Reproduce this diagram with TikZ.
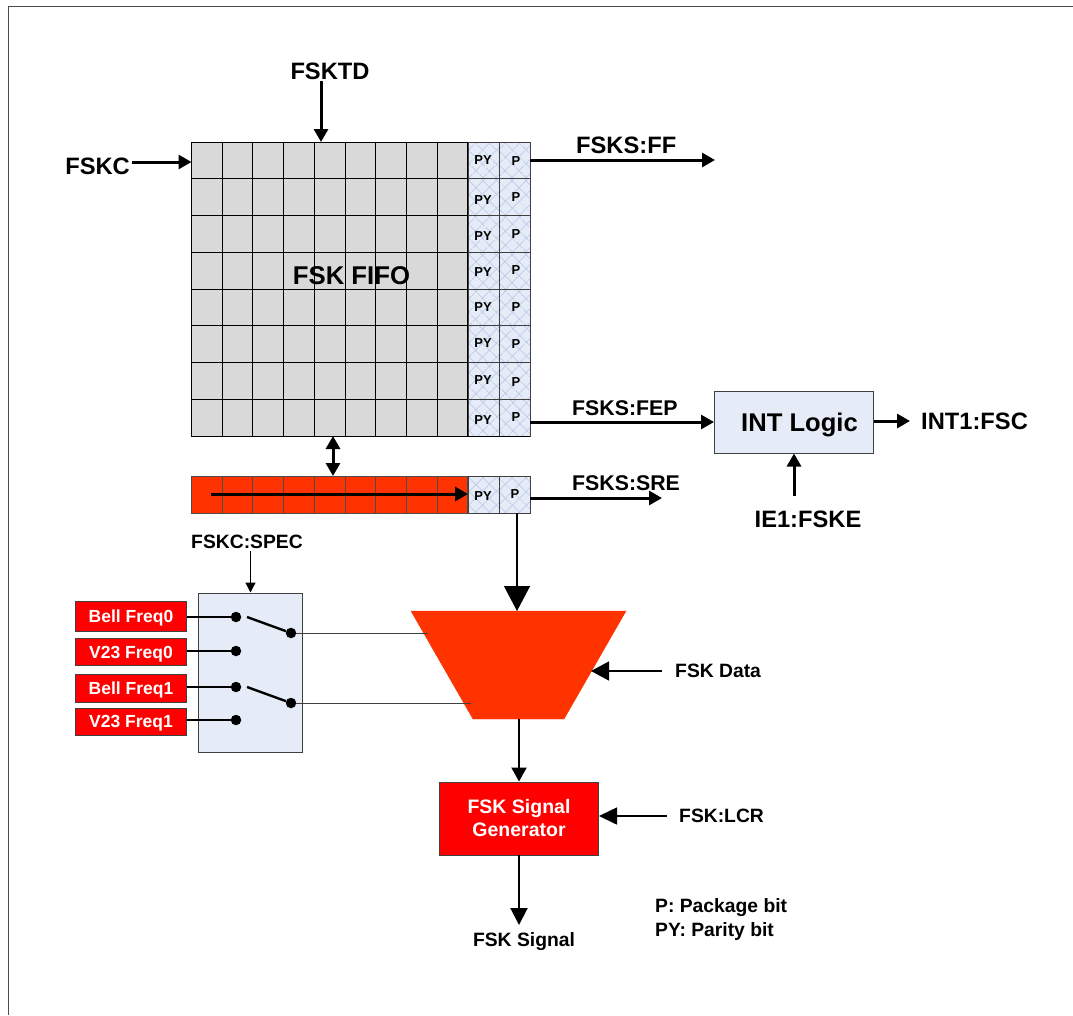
\documentclass[tikz,border=0pt]{standalone}
\usepackage{fontspec}
\setmainfont{Liberation Sans}
\usetikzlibrary{arrows.meta,patterns.meta}
\definecolor{cellgray}{HTML}{D9D9D9}
\definecolor{paleblue}{HTML}{E6ECF7}
\definecolor{hatchblue}{HTML}{B4C6E4}
\definecolor{orangered}{HTML}{FF3300}
\tikzset{
  x=1pt,y=-1pt,
  wire/.style={line width=3pt,-{Triangle[length=13pt,width=14pt]}},
  thinwire/.style={line width=1.2pt,-{Triangle[length=10pt,width=10pt]}},
  bigarrow/.style={line width=1.2pt,-{Triangle[length=25pt,width=26pt]}},
  label/.style={font=\bfseries,text=black,inner sep=0pt},
  big/.style={label,font=\fontsize{23.7}{26}\selectfont\bfseries},
  mid/.style={label,font=\fontsize{21.3}{24}\selectfont\bfseries},
  small/.style={label,font=\fontsize{19.3}{22}\selectfont\bfseries},
  bitlab/.style={label,font=\fontsize{13}{14}\selectfont\bfseries},
  freq/.style={draw=black!75,line width=1pt,fill=red,text=white,minimum width=111pt,inner sep=0pt,text depth=0pt,font=\fontsize{17.5}{20}\selectfont\bfseries},
  gcell/.style={draw=black,line width=1pt,fill=cellgray},
  rcell/.style={draw=black!70,line width=1pt,fill=orangered},
  hatch/.style={pattern={Lines[angle=45,distance=10.5pt,line width=.8pt]},pattern color=hatchblue},
  hatchb/.style={pattern={Lines[angle=-45,distance=10.5pt,line width=.8pt]},pattern color=hatchblue},
  pin/.style={circle,fill=black,inner sep=0pt,minimum size=10.5pt},
  conn/.style={line width=2.4pt,black},
  hair/.style={line width=1pt,black!75}
}
\begin{document}
\begin{tikzpicture}
\useasboundingbox (0,0) rectangle (1073,1015);
\draw[line width=1pt,black!70] (8,1015) -- (8,6.5) -- (1073,6.5);
% FIFO cells
\foreach \r in {0,...,7}{
  \pgfmathsetmacro{\ya}{142+36.75*\r}
  \pgfmathsetmacro{\yb}{142+36.75*(\r+1)}
  \foreach \c in {0,...,8}{
    \pgfmathsetmacro{\xa}{191.5+30.72*\c}
    \pgfmathsetmacro{\xb}{191.5+30.72*(\c+1)}
    \draw[gcell] (\xa,\ya) rectangle (\xb,\yb);
  }
  \foreach \xa/\xb in {468/499,499/530}{
    \fill[paleblue] (\xa,\ya) rectangle (\xb,\yb);
    \fill[hatch] (\xa,\ya) rectangle (\xb,\yb);
    \fill[hatchb] (\xa,\ya) rectangle (\xb,\yb);
    \draw[hair] (\xa,\ya) rectangle (\xb,\yb);
    \draw[black,line width=1pt] (\xa,\yb) -- (\xb,\yb);
  }
}
% shift register
\foreach \c in {0,...,8}{
  \pgfmathsetmacro{\xa}{191.5+30.72*\c}
  \pgfmathsetmacro{\xb}{191.5+30.72*(\c+1)}
  \draw[rcell] (\xa,476) rectangle (\xb,513);
}
\foreach \xa/\xb in {468/499,499/530}{
  \fill[paleblue] (\xa,476) rectangle (\xb,513);
  \fill[hatch] (\xa,476) rectangle (\xb,513);
  \fill[hatchb] (\xa,476) rectangle (\xb,513);
  \draw[hair] (\xa,476) rectangle (\xb,513);
}
\foreach \x/\y/\t in {
 483/160/PY,516/161/P,483/200/PY,516/197/P,483/236/PY,516/234/P,483/272/PY,516/270/P,
 483/307/PY,516/307/P,483/343/PY,516/344/P,483/380/PY,516/382/P,483/420/PY,516/417/P,
 483/496/PY,515/494/P}{
  \node[bitlab] at (\x,\y) {\t};
}
\node[label,font=\fontsize{25.7}{28}\selectfont\bfseries] (fifo) at (351.5,276) {FSK FIFO};
% coordinates
\coordinate (tdfrom) at (321,81);
\coordinate (tdto) at (321,142);
\coordinate (cto) at (191.5,162);
\coordinate (fffrom) at (530,160);
\coordinate (ffto) at (715,160);
\coordinate (fepfrom) at (530,422);
\coordinate (srefrom) at (530,498);
\coordinate (sreto) at (662,498);
\coordinate (fifob) at (333,436);
\coordinate (srt) at (333,476);
\coordinate (ra) at (211,494);
\coordinate (rb) at (468,494);
% labels
\node[big] (fsktd) at (330,71) {FSKTD};
\node[big,anchor=east] (fskc) at (130,166) {FSKC};
\node[big,anchor=west] (ff) at (576,145) {FSKS:FF};
\node[mid,anchor=west] (fep) at (572,408) {FSKS:FEP};
\node[mid,anchor=west] (sre) at (572,483) {FSKS:SRE};
\node[big,anchor=west] (int1) at (921,421) {INT1:FSC};
\node[big] (ie1) at (808,519) {IE1:FSKE};
\node[draw=black!75,line width=1pt,fill=paleblue,minimum width=159pt,minimum height=62pt,inner sep=0pt,text depth=0pt,font=\fontsize{25.6}{28}\selectfont\bfseries] (intl) at (794,422) {\hspace{11pt}INT Logic};
\coordinate (intend) at (910,421);
\draw[wire] (tdfrom) -- (tdto);
\draw[wire] (fskc.east |- cto) ++(2,0) coordinate (cfrom) -- (cto);
\draw[wire] (fffrom) -- (ffto);
\draw[wire] (fepfrom) -- (intl.west |- fepfrom);
\draw[wire] (srefrom) -- (sreto);
\draw[wire] (intl.east |- intend) -- (intend);
\coordinate (ief) at (794,496);
\draw[wire] (ief) -- (intl.south);
\draw[line width=3pt,{Triangle[length=13pt,width=14pt]}-{Triangle[length=13pt,width=14pt]}] (fifob) -- (srt);
\draw[wire] (ra) -- (rb);
% switch box
\node[draw=black!75,line width=1pt,fill=paleblue,minimum width=104pt,minimum height=159pt,inner sep=0pt] (sw) at (250.5,672.5) {};
\node[small] (spec) at (247,542) {FSKC:SPEC};
\draw[thinwire] (spec.south -| sw.north) ++(0,2) coordinate (sf) -- (sw.north);
\node[freq,minimum height=30pt] (b0) at (131,616.5) {Bell Freq0};
\node[freq,minimum height=27pt] (v0) at (131,652) {V23 Freq0};
\node[freq,minimum height=28pt] (b1) at (131,688) {Bell Freq1};
\node[freq,minimum height=27pt] (v1) at (131,721.5) {V23 Freq1};
\node[pin] (p0) at (236,617) {};
\node[pin] (p1) at (236,651) {};
\node[pin] (p2) at (236,687) {};
\node[pin] (p3) at (236,720) {};
\node[pin] (o0) at (291,633) {};
\node[pin] (o1) at (291,703) {};
\coordinate (s0) at (247,617);
\coordinate (s1) at (247,687);
\draw[conn] (b0.east |- p0) -- (p0);
\draw[conn] (v0.east |- p1) -- (p1);
\draw[conn] (b1.east |- p2) -- (p2);
\draw[conn] (v1.east |- p3) -- (p3);
\draw[conn] (s0) -- (o0);
\draw[conn] (s1) -- (o1);
% mux
\fill[orangered,draw=orangered] (411,611) -- (626,611) -- (564,719) -- (473,719) -- cycle;
\coordinate (mi0) at (428,633);
\coordinate (mi1) at (471,703);
\coordinate (mt) at (517,611);
\coordinate (mb) at (519,719);
\coordinate (mr) at (591,671);
\draw[hair] (o0) -- (mi0);
\draw[hair] (o1) -- (mi1);
\coordinate (pb) at (517,513);
\draw[bigarrow] (pb) -- (mt);
\node[small,anchor=west] (fdata) at (675,671) {FSK Data};
\draw[line width=1.5pt,-{Triangle[length=18pt,width=19pt]}] (fdata.west) ++(-13,0) coordinate (fdf) -- (mr);
\node[draw=black!75,line width=1pt,fill=red,text=white,minimum width=159pt,minimum height=73pt,inner sep=0pt,align=center,font=\fontsize{19.5}{23}\selectfont\bfseries] (gen) at (519,818.5) {FSK Signal\\Generator};
\draw[line width=2pt,-{Triangle[length=14pt,width=15pt]}] (mb) -- (gen.north);
\node[small,anchor=west] (lcr) at (679,816) {FSK:LCR};
\draw[line width=1.6pt,-{Triangle[length=18pt,width=17pt]}] (lcr.west) ++(-12,0) coordinate (lf) -- (gen.east |- lf);
\node[small] (sig) at (524,942) {FSK Signal};
\coordinate (gb) at (519,855);
\coordinate (sigt) at (519,925);
\draw[line width=2pt,-{Triangle[length=17pt,width=17pt]}] (gb) -- (sigt);
\node[small,anchor=west] (k1) at (655,908) {P: Package bit};
\node[small,anchor=west] (k2) at (655,931) {PY: Parity bit};
\end{tikzpicture}
\end{document}
